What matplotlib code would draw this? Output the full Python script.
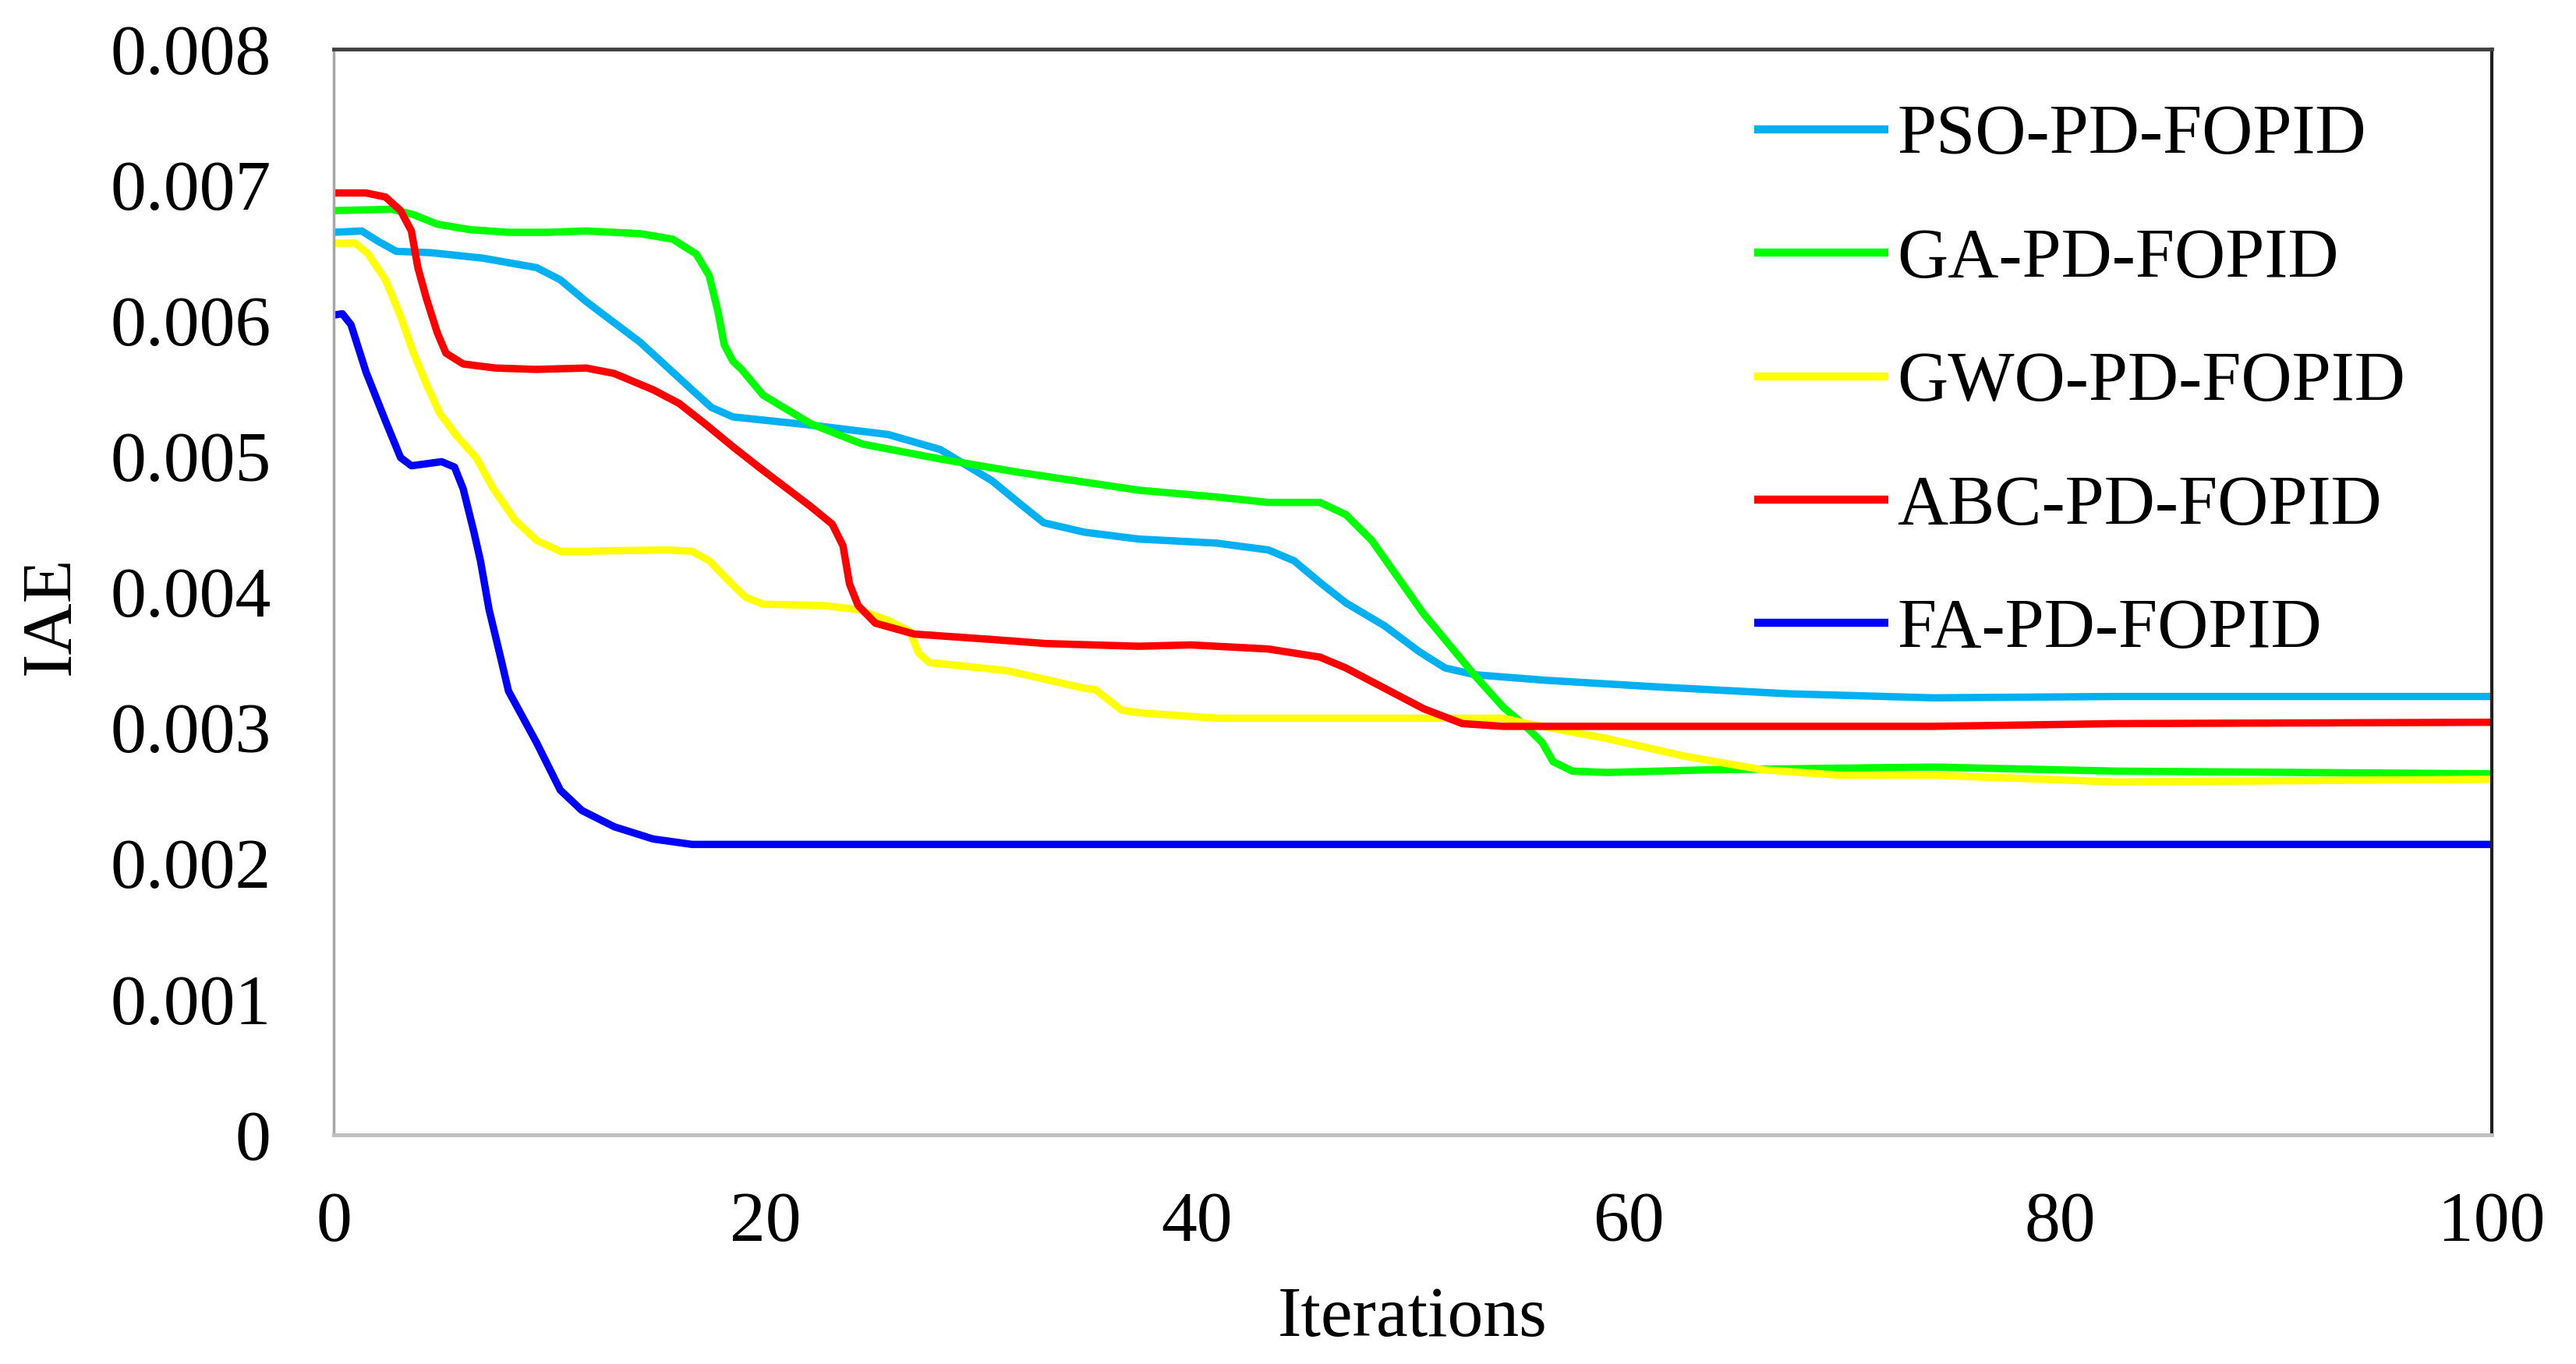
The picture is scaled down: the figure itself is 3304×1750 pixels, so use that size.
import matplotlib
matplotlib.use("Agg")
import matplotlib.pyplot as plt

plt.rcParams['font.family'] = ['Liberation Serif', 'DejaVu Serif']

series_names = ["PSO-PD-FOPID", "GA-PD-FOPID", "GWO-PD-FOPID", "ABC-PD-FOPID", "FA-PD-FOPID"]
series_colors = ["#00B0F0", "#00FF00", "#FFFF00", "#FF0000", "#0000FF"]

# values, in units of 1e-3
pso_x = [0, 1.3, 2.1, 2.9, 4.5, 6.9, 9.4, 10.5, 11.7, 14.2, 16.6, 17.5, 18.5, 22.1, 25.7, 28.1, 30.5, 31.8, 32.9, 34.8, 37.3,
         40.9, 43.3, 44.5, 45.7, 46.9, 48.7, 50.3, 51.5, 52.9, 56.1, 61.4, 67.4, 74.1, 82.6, 100]
pso_v = [6.65, 6.66, 6.58, 6.51, 6.50, 6.46, 6.39, 6.30, 6.14, 5.84, 5.49, 5.36, 5.29, 5.23, 5.16, 5.05, 4.82, 4.65, 4.51, 4.44, 4.39,
         4.36, 4.31, 4.23, 4.07, 3.92, 3.75, 3.56, 3.44, 3.39, 3.35, 3.30, 3.25, 3.22, 3.23, 3.23]

ga_x = [0, 2.7, 3.7, 4.8, 6.3, 8.1, 9.9, 11.7, 14.2, 15.7, 16.8, 17.4, 17.8, 18.1, 18.5, 18.9, 19.9, 22.1, 24.5, 28.1, 31.8, 37.3,
        40.9, 43.3, 45.7, 46.9, 48.1, 49.3, 50.5, 51.7, 52.9, 54.2, 55.3, 56.0, 56.5, 57.4, 59.0, 63.8, 74.1, 82.6, 100]
ga_v = [6.81, 6.82, 6.78, 6.71, 6.67, 6.65, 6.65, 6.66, 6.64, 6.60, 6.49, 6.33, 6.07, 5.82, 5.70, 5.64, 5.45, 5.24, 5.09, 4.98, 4.88, 4.75,
        4.70, 4.66, 4.66, 4.57, 4.38, 4.11, 3.84, 3.61, 3.38, 3.15, 3.00, 2.89, 2.75, 2.68, 2.67, 2.69, 2.71, 2.68, 2.66]

gwo_x = [0, 1.0, 1.6, 2.4, 3.1, 3.7, 4.3, 4.9, 5.7, 6.6, 7.4, 8.4, 9.4, 10.5, 11.7, 15.4, 16.6, 17.4, 18.5, 19.1, 19.9, 22.7, 24.3, 25.7,
         26.7, 27.1, 27.6, 31.2, 34.8, 35.3, 36.5, 37.3, 40.9, 49.3, 54.2, 55.3, 59.0, 62.6, 66.2, 69.8, 74.1, 82.6, 100]
gwo_v = [6.57, 6.57, 6.49, 6.30, 6.03, 5.76, 5.53, 5.32, 5.15, 4.99, 4.76, 4.53, 4.38, 4.30, 4.30, 4.31, 4.30, 4.23, 4.05, 3.96, 3.91, 3.90, 3.87, 3.79,
         3.71, 3.55, 3.48, 3.42, 3.29, 3.28, 3.13, 3.11, 3.07, 3.07, 3.07, 3.03, 2.92, 2.79, 2.69, 2.65, 2.65, 2.60, 2.62]

abc_x = [0, 1.5, 2.4, 3.1, 3.6, 3.9, 4.3, 4.8, 5.2, 6.0, 7.5, 9.4, 11.7, 13.0, 14.8, 16.0, 17.2, 18.5, 19.7, 22.1, 23.1, 23.6, 23.9, 24.3,
         25.1, 26.9, 30.5, 33.0, 37.3, 39.7, 43.3, 45.7, 46.9, 48.7, 50.5, 52.3, 54.2, 56.1, 74.1, 82.6, 100]
abc_v = [6.94, 6.94, 6.91, 6.81, 6.66, 6.39, 6.16, 5.91, 5.76, 5.68, 5.65, 5.64, 5.65, 5.61, 5.49, 5.39, 5.24, 5.07, 4.92, 4.63, 4.50, 4.34, 4.06, 3.90,
         3.77, 3.69, 3.65, 3.62, 3.60, 3.61, 3.58, 3.52, 3.44, 3.29, 3.14, 3.03, 3.01, 3.01, 3.01, 3.03, 3.04]

fa_x = [0, 0.4, 0.8, 1.5, 2.4, 3.1, 3.6, 5.0, 5.6, 6.0, 6.5, 6.8, 7.2, 7.7, 8.1, 9.4, 10.5, 11.5, 13.0, 14.8, 16.6, 100]
fa_v = [6.04, 6.05, 5.97, 5.62, 5.26, 4.99, 4.93, 4.96, 4.92, 4.76, 4.44, 4.23, 3.87, 3.54, 3.27, 2.89, 2.54, 2.39, 2.27, 2.18, 2.14, 2.14]

x_ticks = [0, 20, 40, 60, 80, 100]
y_ticks = [0, 0.001, 0.002, 0.003, 0.004, 0.005, 0.006, 0.007, 0.008]
y_tick_labels = ["0", "0.001", "0.002", "0.003", "0.004", "0.005", "0.006", "0.007", "0.008"]

fig = plt.figure(figsize=(33.04, 17.5), dpi=100)
ax = fig.add_axes([428/3304, 1 - 1456/1750, (3196-428)/3304, (1456-63)/1750])

xs = [pso_x, ga_x, gwo_x, abc_x, fa_x]
vs = [pso_v, ga_v, gwo_v, abc_v, fa_v]
for x, v, name, c in zip(xs, vs, series_names, series_colors):
    ax.plot(x, [val * 1e-3 for val in v], color=c, lw=6.8, label=name,
            solid_joinstyle='round', solid_capstyle='butt')

ax.set_xlim(0, 100)
ax.set_ylim(0, 0.008)
ax.set_xticks(x_ticks)
ax.set_xticklabels([str(t) for t in x_ticks])
ax.set_yticks(y_ticks)
ax.set_yticklabels(y_tick_labels)
ax.tick_params(axis='both', length=0, labelsize=66, colors='black')
ax.tick_params(axis='x', pad=52)
ax.tick_params(axis='y', pad=58)

ax.spines['left'].set_color('#A6A6A6')
ax.spines['left'].set_linewidth(2.5)
ax.spines['bottom'].set_color('#BFBFBF')
ax.spines['bottom'].set_linewidth(3.5)
ax.spines['top'].set_color('#404040')
ax.spines['top'].set_linewidth(3.5)
ax.spines['right'].set_color('#202020')
ax.spines['right'].set_linewidth(3)

fig.text(67/3304, 1 - 790/1750, "IAE", rotation=90, fontsize=66, ha='center', va='center')
fig.text(1812/3304, 1 - 1692/1750, "Iterations", fontsize=66, ha='center', va='center')

leg = ax.legend(loc='upper left', bbox_to_anchor=(2250/3304, 1 - 134/1750),
                bbox_transform=fig.transFigure, frameon=False, fontsize=65,
                handlelength=1.9, handletextpad=0.13, labelspacing=0.84,
                borderpad=0, borderaxespad=0)
for h in leg.get_lines():
    h.set_linewidth(7.5)

fig.savefig("out.png", dpi=100)
